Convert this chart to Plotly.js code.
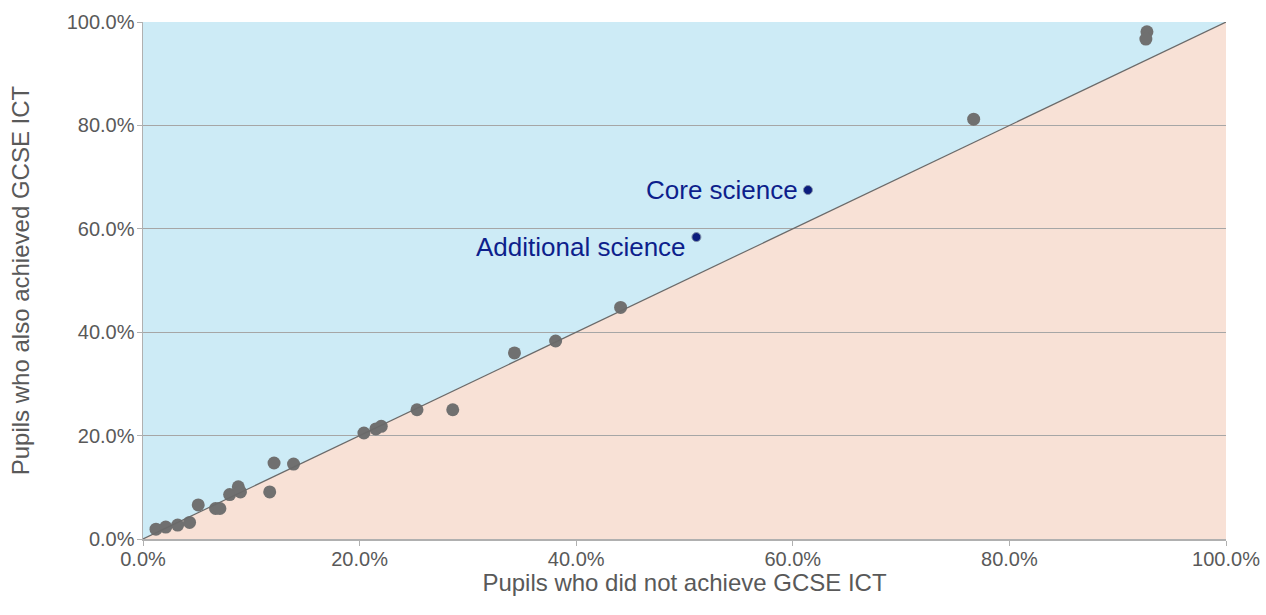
<!DOCTYPE html>
<html>
<head>
<meta charset="utf-8">
<script src="https://cdn.plot.ly/plotly-3.0.1.min.js"></script>
<style>html,body{margin:0;padding:0;background:#fff;}#chart{width:1266px;height:615px;}</style>
</head>
<body>
<div id="chart"></div>
<script>
// Other subjects (grey points)
const otherX = [0.012,0.021,0.032,0.043,0.051,0.067,0.071,0.080,0.088,0.090,0.117,0.121,0.139,0.204,0.215,0.220,0.253,0.286,0.343,0.381,0.441,0.767,0.927,0.926];
const otherY = [0.019,0.023,0.027,0.032,0.066,0.059,0.059,0.086,0.101,0.091,0.091,0.147,0.145,0.205,0.213,0.218,0.250,0.250,0.360,0.383,0.448,0.812,0.981,0.967];
// Highlighted subjects
const hiNames = ["Core science","Additional science"];
const hiX = [0.614,0.511];
const hiY = [0.675,0.584];
const tickVals = [0,0.2,0.4,0.6,0.8,1.0];

const traces = [
  {x: otherX, y: otherY, type:'scatter', mode:'markers',
   marker:{color:'#707070', size:13}, hoverinfo:'x+y', showlegend:false},
  {x: hiX, y: hiY, type:'scatter', mode:'markers', text: hiNames,
   marker:{color:'#0a1c7e', size:9, line:{color:'#8090a8', width:1}}, showlegend:false}
];

const annotations = hiNames.map((n,i)=>({
  x: hiX[i], y: hiY[i], xref:'x', yref:'y', text: n, showarrow:false,
  xanchor:'right', yanchor:'middle', xshift: -8, yshift: i===1 ? -10 : 0,
  font:{color:'#0d1f8c', size:26, family:'Liberation Sans, Arial, sans-serif'}
}));

const layout = {
  width:1266, height:615,
  margin:{l:143, r:40, t:22, b:76},
  paper_bgcolor:'#ffffff', plot_bgcolor:'#ffffff',
  font:{family:'Liberation Sans, Arial, sans-serif', color:'#595959', size:20},
  xaxis:{range:[0,1], tickvals:tickVals, tickformat:'.1%', showgrid:false, zeroline:false,
    showline:true, linecolor:'#b0b0b0', linewidth:1.5, ticks:'outside', ticklen:5, tickcolor:'#b0b0b0',
    ticklabelstandoff:-4,
    tickfont:{size:20, color:'#595959'},
    title:{text:'Pupils who did not achieve GCSE ICT', font:{size:24, color:'#595959'}, standoff:0}},
  yaxis:{range:[0,1], tickvals:tickVals, tickformat:'.1%', showgrid:true, gridcolor:'#a6a6a6', gridwidth:1,
    zeroline:false, showline:true, linecolor:'#b0b0b0', linewidth:1.5, ticks:'outside', ticklen:5, tickcolor:'#b0b0b0',
    ticklabelstandoff:-2,
    tickfont:{size:20, color:'#595959'},
    title:{text:'Pupils who also achieved GCSE ICT', font:{size:24, color:'#595959'}, standoff:30}},
  shapes:[
    {type:'path', xref:'x', yref:'y', path:'M0,0 L0,1 L1,1 Z', fillcolor:'#cdebf6', line:{width:0}, layer:'below'},
    {type:'path', xref:'x', yref:'y', path:'M0,0 L1,0 L1,1 Z', fillcolor:'#f8e1d6', line:{width:0}, layer:'below'},
    {type:'line', xref:'x', yref:'y', x0:0, y0:0, x1:1, y1:1, line:{color:'#6a6a6a', width:1.2}}
  ],
  annotations: annotations
};
Plotly.newPlot('chart', traces, layout, {displayModeBar:false, staticPlot:true});
</script>
</body>
</html>
